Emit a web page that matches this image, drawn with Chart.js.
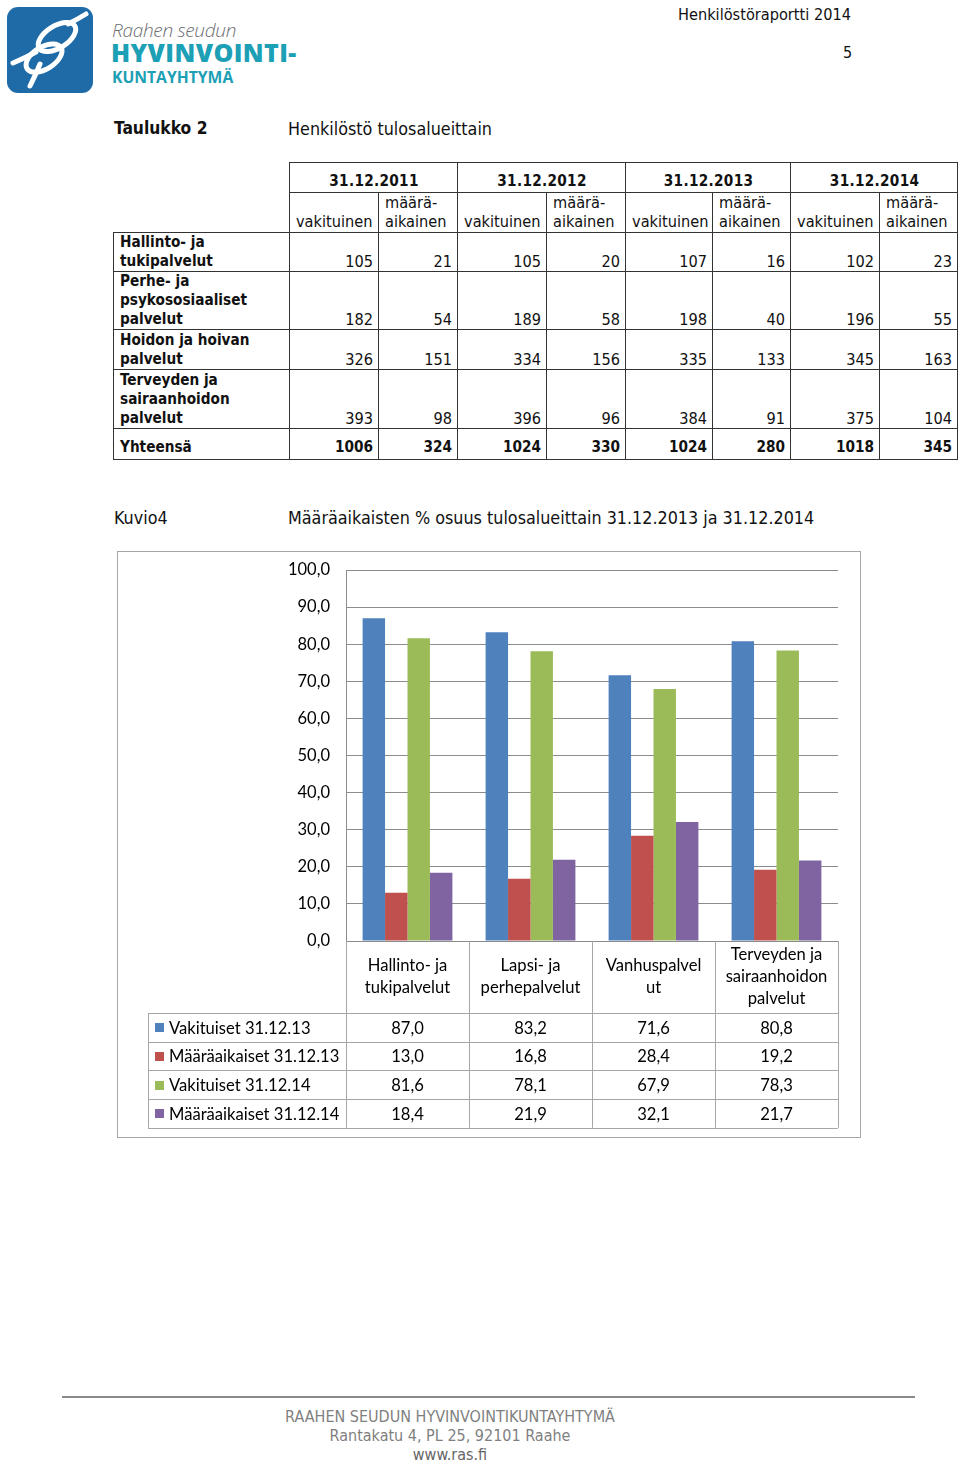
<!DOCTYPE html>
<html>
<head>
<meta charset="utf-8">
<script src="https://cdn.jsdelivr.net/npm/chart.js@4.4.0/dist/chart.umd.min.js"></script>
<style>
  body { margin: 0; background: #fff; }
  #page { position: relative; width: 960px; height: 1464px; overflow: hidden; font-family: "DejaVu Sans Condensed", "DejaVu Sans", sans-serif; color: #111; }
  .abs { position: absolute; white-space: nowrap; }
  #hdr { left: 678px; top: 5px; font-size: 16.2px; }
  #pnum { left: 843px; top: 43px; font-size: 16px; }
  #logoT1 { left: 112px; top: 17px; font-family: "Open Sans", sans-serif; font-style: italic; font-weight: 300; font-size: 19px; color: #6d6e71; letter-spacing: -0.3px; }
  #logoT2 { left: 111px; top: 35px; font-family: "Open Sans", sans-serif; font-weight: 800; font-size: 25px; color: #1d9fb5; letter-spacing: 0.4px; }
  #logoT3 { left: 112px; top: 66px; font-family: "Open Sans", sans-serif; font-weight: 700; font-size: 15.7px; color: #1d9fb5; }
  .cap { font-size: 17.8px; }
  #tbl { position: absolute; left: 113px; top: 162px; width: 845px; border-collapse: collapse; table-layout: fixed; font-size: 16.2px; line-height: 19px; }
  #tbl td { border: 1px solid #333; padding: 0 5px 0 6px; vertical-align: bottom; overflow: hidden; white-space: nowrap; }
  #tbl td.num { text-align: right; }
  #tbl td.lbl { font-weight: bold; text-align: left; font-size: 15.2px; }
  #tbl td.yr { font-weight: bold; text-align: center; letter-spacing: 0.3px; padding-bottom: 1px; font-size: 15.2px; }
  #tbl td.sub { text-align: left; padding-bottom: 1px; }
  #tbl tr.tot td { font-weight: bold; padding-bottom: 2px; font-size: 15.2px; }
  #chartBox { position: absolute; left: 117px; top: 551px; width: 742px; height: 585px; border: 1px solid #a6a6a6; }
  #foot { left: 0; width: 900px; top: 1407px; text-align: center; font-size: 16px; line-height: 19px; color: #7f7f7f; }
</style>
</head>
<body>
<div id="page">
  <svg class="abs" style="left:0;top:0" width="100" height="100">
    <rect x="7" y="7" width="86" height="86" rx="11" fill="#1f6ba7"/>
    <g fill="none" stroke="#fff" stroke-width="5" stroke-linecap="round">
      <ellipse cx="57" cy="37" rx="21" ry="11" transform="rotate(-32 57 37)"/>
      <ellipse cx="44" cy="58" rx="20" ry="11" transform="rotate(-32 44 58)"/>
      <path d="M13 63 Q25 58 36 52"/>
      <path d="M68 24 Q78 19 86 14"/>
      <path d="M30 86 Q36 74 40 64"/>
    </g>
  </svg>
  <div class="abs" id="logoT1">Raahen seudun</div>
  <div class="abs" id="logoT2">HYVINVOINTI-</div>
  <div class="abs" id="logoT3">KUNTAYHTYMÄ</div>
  <div class="abs" id="hdr">Henkilöstöraportti 2014</div>
  <div class="abs" id="pnum">5</div>

  <div class="abs cap" style="left:114px;top:118px;font-weight:bold;font-size:17.3px;">Taulukko 2</div>
  <div class="abs cap" style="left:288px;top:118px;">Henkilöstö tulosalueittain</div>
  <table id="tbl"></table>

  <div class="abs cap" style="left:114px;top:507px;">Kuvio4</div>
  <div class="abs cap" style="left:288px;top:507px;">Määräaikaisten % osuus tulosalueittain 31.12.2013 ja 31.12.2014</div>
  <div id="chartBox"><canvas id="chart" width="742" height="585"></canvas></div>

  <div class="abs" id="foot" style="left:0">
    <div style="position:absolute;left:62px;top:-11px;width:853px;border-top:2px solid #8a8a8a"></div>
    RAAHEN SEUDUN HYVINVOINTIKUNTAYHTYMÄ<br>Rantakatu 4, PL 25, 92101 Raahe<br><span style="color:#666">www.ras.fi</span>
  </div>
</div>
<script>
// Taulukko 2
const years = ['31.12.2011', '31.12.2012', '31.12.2013', '31.12.2014'];
const rowLabels = [
  ['Hallinto- ja', 'tukipalvelut'],
  ['Perhe- ja', 'psykososiaaliset', 'palvelut'],
  ['Hoidon ja hoivan', 'palvelut'],
  ['Terveyden ja', 'sairaanhoidon', 'palvelut']
];
const vak2011 = [105, 182, 326, 393];
const maa2011 = [21, 54, 151, 98];
const vak2012 = [105, 189, 334, 396];
const maa2012 = [20, 58, 156, 96];
const vak2013 = [107, 198, 335, 384];
const maa2013 = [16, 40, 133, 91];
const vak2014 = [102, 196, 345, 375];
const maa2014 = [23, 55, 163, 104];
const totals = [1006, 324, 1024, 330, 1024, 280, 1018, 345];

// Kuvio 4
const categories = [
  ['Hallinto- ja', 'tukipalvelut'],
  ['Lapsi- ja', 'perhepalvelut'],
  ['Vanhuspalvel', 'ut'],
  ['Terveyden ja', 'sairaanhoidon', 'palvelut']
];
const seriesNames = ['Vakituiset 31.12.13', 'Määräaikaiset 31.12.13', 'Vakituiset 31.12.14', 'Määräaikaiset 31.12.14'];
const vakituiset13 = [87.0, 83.2, 71.6, 80.8];
const maaraaikaiset13 = [13.0, 16.8, 28.4, 19.2];
const vakituiset14 = [81.6, 78.1, 67.9, 78.3];
const maaraaikaiset14 = [18.4, 21.9, 32.1, 21.7];
const colors = ['#4f81bd', '#c0504d', '#9bbb59', '#8064a2'];
const yMin = 0, yMax = 100, yStep = 10;

// build table
const tbl = document.getElementById('tbl');
const colW = [176, 89, 79, 89, 79, 87, 78, 89, 78];
let html = '<colgroup>' + colW.map(w => '<col style="width:' + w + 'px">').join('') + '</colgroup>';
html += '<tr><td style="border:none;height:30px"></td>' + years.map(y => '<td class="yr" colspan="2">' + y + '</td>').join('') + '</tr>';
html += '<tr><td style="border:none;height:38px"></td>' + years.map(() => '<td class="sub">vakituinen</td><td class="sub">määrä-<br>aikainen</td>').join('') + '</tr>';
const cols = [vak2011, maa2011, vak2012, maa2012, vak2013, maa2013, vak2014, maa2014];
const rowH = [38, 56, 39, 58];
rowLabels.forEach((lbl, r) => {
  html += '<tr><td class="lbl" style="height:' + rowH[r] + 'px">' + lbl.join('<br>') + '</td>';
  cols.forEach(c => { html += '<td class="num">' + c[r] + '</td>'; });
  html += '</tr>';
});
html += '<tr class="tot"><td class="lbl" style="height:28px">Yhteensä</td>' + totals.map(v => '<td class="num">' + v + '</td>').join('') + '</tr>';
tbl.innerHTML = html;

const fmt = v => v.toFixed(1).replace('.', ',');
const seriesData = [vakituiset13, maaraaikaiset13, vakituiset14, maaraaikaiset14];

const dataTablePlugin = {
  id: 'dataTable',
  afterDraw(chart) {
    const ctx = chart.ctx;
    const area = chart.chartArea;
    const x = chart.scales.x;
    const step = x.getPixelForTick(1) - x.getPixelForTick(0);
    const labelBottom = area.bottom + 72;
    const rowH = 28.7;
    const tableLeft = 30;
    const tableBottom = labelBottom + rowH * seriesData.length;
    ctx.save();
    ctx.strokeStyle = '#a6a6a6';
    ctx.lineWidth = 1;
    // vertical lines
    for (let i = 0; i <= categories.length; i++) {
      const px = Math.round(area.left + step * i) + 0.5;
      ctx.beginPath();
      ctx.moveTo(px, area.bottom);
      ctx.lineTo(px, tableBottom);
      ctx.stroke();
    }
    ctx.beginPath();
    ctx.moveTo(tableLeft + 0.5, labelBottom);
    ctx.lineTo(tableLeft + 0.5, tableBottom);
    ctx.stroke();
    for (let r = 0; r <= seriesData.length; r++) {
      const py = Math.round(labelBottom + rowH * r) + 0.5;
      ctx.beginPath();
      ctx.moveTo(tableLeft, py);
      ctx.lineTo(area.right, py);
      ctx.stroke();
    }
    ctx.fillStyle = '#000';
    ctx.font = '16.6px Lato, sans-serif';
    ctx.textAlign = 'center';
    ctx.textBaseline = 'middle';
    categories.forEach((lines, i) => {
      const cx = x.getPixelForTick(i);
      const cy = (area.bottom + labelBottom) / 2;
      lines.forEach((t, k) => {
        ctx.fillText(t, cx, cy + (k - (lines.length - 1) / 2) * 22);
      });
    });
    seriesData.forEach((vals, r) => {
      const cy = labelBottom + rowH * (r + 0.5) + 1;
      ctx.fillStyle = colors[r];
      ctx.fillRect(tableLeft + 7, Math.round(cy - 5), 9, 9);
      ctx.fillStyle = '#000';
      ctx.textAlign = 'left';
      ctx.fillText(seriesNames[r], tableLeft + 21, cy);
      ctx.textAlign = 'center';
      vals.forEach((v, i) => ctx.fillText(fmt(v), x.getPixelForTick(i), cy));
    });
    ctx.restore();
  }
};

new Chart(document.getElementById('chart'), {
  type: 'bar',
  data: {
    labels: categories,
    datasets: seriesData.map((d, i) => ({
      label: seriesNames[i],
      data: d,
      backgroundColor: colors[i],
      borderWidth: 0,
      categoryPercentage: 0.73,
      barPercentage: 1.0
    }))
  },
  options: {
    responsive: false,
    animation: false,
    layout: { padding: { left: 0, right: 22, top: 18, bottom: 196 } },
    plugins: { legend: { display: false }, tooltip: { enabled: false } },
    scales: {
      x: { display: false },
      y: {
        min: yMin, max: yMax,
        afterFit(scale) { scale.width = 228; scale.paddingTop = 0; scale.paddingBottom = 0; },
        ticks: { stepSize: yStep, padding: 16, color: '#000', font: { family: 'Lato', size: 16.5 }, callback: v => fmt(v) },
        grid: { color: '#8c8c8c', drawTicks: false },
        border: { display: true, color: '#8c8c8c' }
      }
    }
  },
  plugins: [dataTablePlugin]
});
</script>
</body>
</html>
